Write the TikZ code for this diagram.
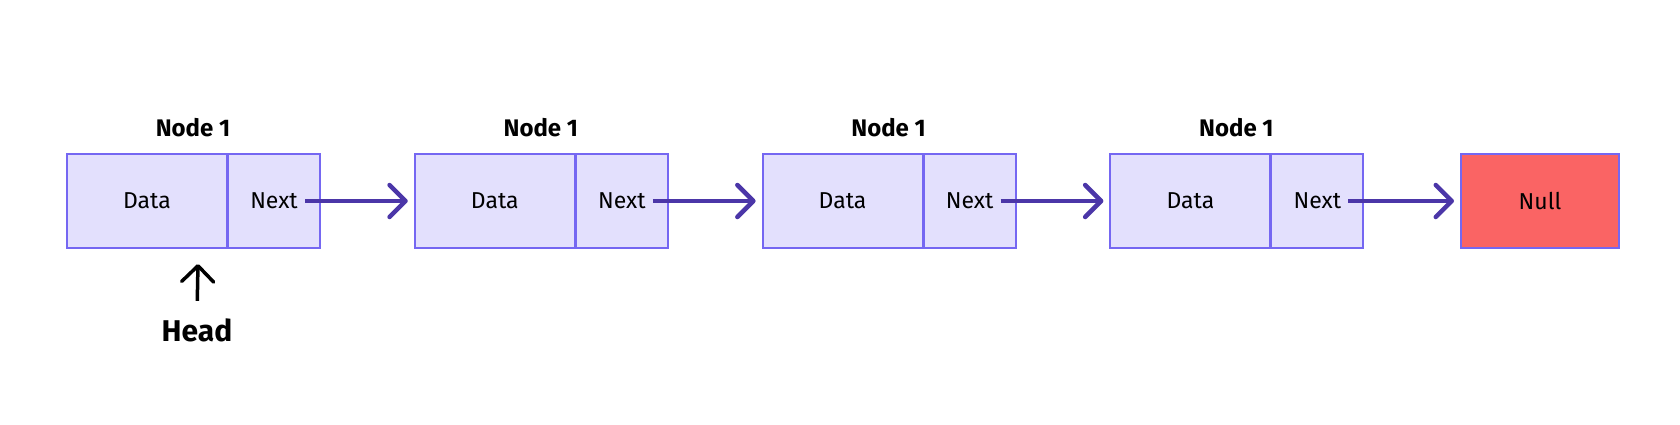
\documentclass[tikz,border=0pt]{standalone}
\usepackage{fontspec}
\setmainfont{Fira Sans}
\usetikzlibrary{arrows.meta,positioning}
\definecolor{cellfill}{HTML}{E3E0FD}
\definecolor{cellline}{HTML}{7567F2}
\definecolor{linkcol}{HTML}{4B36A8}
\definecolor{nullfill}{HTML}{FA6464}
\tikzset{
  cell/.style={draw=cellline, fill=cellfill, line width=2pt, minimum height=94pt,
    inner sep=0pt, outer sep=0pt, font=\fontsize{23}{27}\selectfont},
  nullcell/.style={cell, fill=nullfill},
  title/.style={font=\bfseries\fontsize{24}{28}\selectfont},
  link/.style={draw=linkcol, line width=4.5pt, -{Straight Barb[length=16pt,width=32pt,round]}, shorten >=7pt},
}

\begin{document}
\begin{tikzpicture}[x=1pt,y=-1pt]
\useasboundingbox (0,0) rectangle (1680,424);

% the four list nodes
\foreach \i in {1,...,4}{
  \node[cell, minimum width=160pt] (d\i) at ({147+347.8*(\i-1)},201) {Data};
  \node[cell, minimum width=92pt, right=1pt of d\i] (n\i) {Next};
  \node[title] (t\i) at ({193+347.8*(\i-1)},128) {Node 1};
}
\node[nullcell, minimum width=158pt] (nul) at (1540,201) {Null};

% pointers
\foreach \i/\j in {1/d2,2/d3,3/d4,4/nul}
  \draw[link] ([xshift=-15pt]n\i.east) -- (\j.west);

% head pointer
\node[title, font=\bfseries\fontsize{30}{34}\selectfont] (head) at (197,330) {Head};
\coordinate (headtip) at (198,264);
\draw[line width=3.5pt, -{Straight Barb[length=16pt,width=32pt,round]}, shorten <=14pt] (head.north) -- (headtip);
\end{tikzpicture}
\end{document}
